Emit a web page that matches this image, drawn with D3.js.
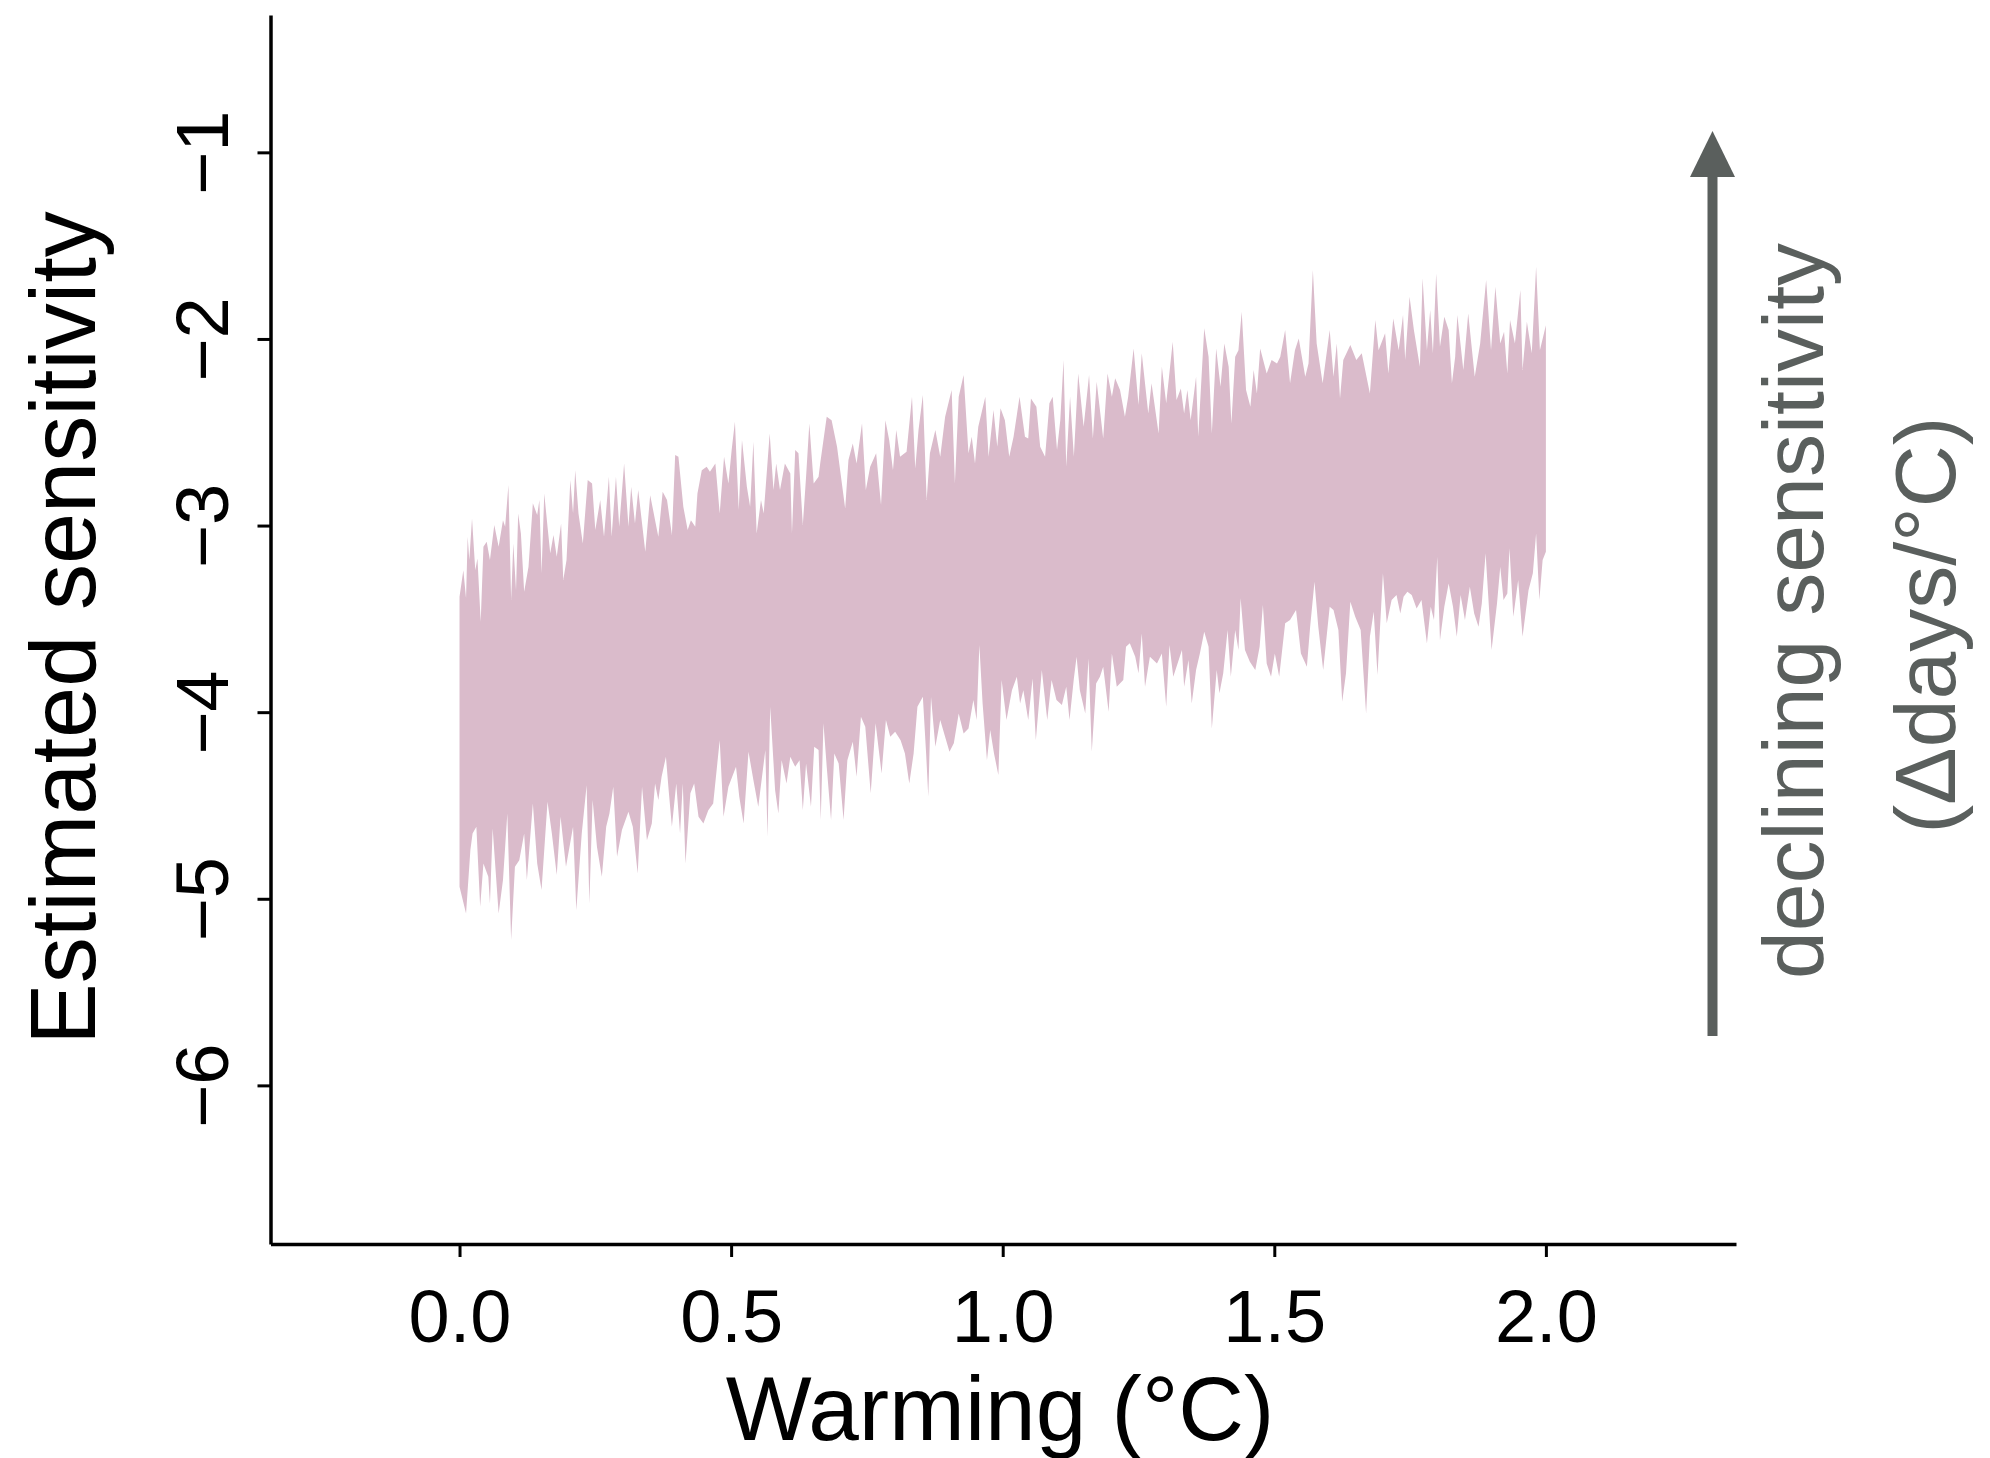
<!DOCTYPE html>
<html>
<head>
<meta charset="utf-8">
<script src="https://cdn.jsdelivr.net/npm/d3@7"></script>
<style>
  body { margin: 0; background: #fff; }
  svg { display: block; }
  text { font-family: "Liberation Sans", Arial, Helvetica, sans-serif; }
</style>
</head>
<body>
<svg id="chart" width="1990" height="1458"></svg>
<script>
// tick values
const xTicks = [0, 0.5, 1, 1.5, 2];
const yTicks = [-6, -5, -4, -3, -2, -1];

// upper edge of the sensitivity band, [warming, sensitivity]
const upperEdge = [
  [0.000,-3.381],[0.007,-3.239],[0.012,-3.390],[0.015,-3.060],[0.018,-3.185],[0.023,-2.962],[0.029,-3.239],[0.033,-3.176],[0.039,-3.515],[0.044,-3.114],
  [0.050,-3.087],[0.056,-3.185],[0.064,-2.997],[0.072,-3.114],[0.080,-2.971],[0.084,-3.006],[0.090,-2.783],[0.095,-3.399],[0.099,-3.096],[0.104,-3.346],
  [0.108,-2.935],[0.113,-3.042],[0.119,-3.355],[0.127,-3.221],[0.135,-2.881],[0.143,-2.944],[0.147,-2.863],[0.151,-3.256],[0.156,-2.828],[0.162,-3.006],
  [0.167,-3.149],[0.173,-3.051],[0.179,-3.167],[0.187,-2.989],[0.191,-3.292],[0.197,-3.185],[0.204,-2.756],[0.209,-2.935],[0.213,-2.703],[0.219,-2.935],
  [0.227,-3.096],[0.236,-2.756],[0.244,-2.774],[0.250,-3.024],[0.259,-2.863],[0.266,-3.060],[0.275,-2.738],[0.280,-3.060],[0.288,-2.738],[0.294,-3.006],
  [0.303,-2.667],[0.311,-3.006],[0.316,-2.792],[0.323,-2.989],[0.329,-2.810],[0.342,-3.140],[0.351,-2.837],[0.360,-2.971],[0.366,-3.060],[0.374,-2.819],
  [0.382,-2.863],[0.391,-3.051],[0.397,-2.622],[0.403,-2.631],[0.412,-2.899],[0.420,-3.024],[0.426,-2.971],[0.434,-3.006],[0.438,-2.828],[0.446,-2.703],
  [0.455,-2.685],[0.461,-2.712],[0.471,-2.667],[0.479,-2.935],[0.487,-2.631],[0.495,-2.774],[0.501,-2.595],[0.507,-2.444],[0.514,-2.917],[0.520,-2.542],
  [0.529,-2.792],[0.535,-2.899],[0.541,-2.551],[0.547,-3.042],[0.555,-2.863],[0.560,-2.935],[0.571,-2.506],[0.578,-2.810],[0.583,-2.667],[0.590,-2.810],
  [0.599,-2.667],[0.609,-2.721],[0.612,-3.042],[0.618,-2.595],[0.624,-2.613],[0.632,-2.997],[0.638,-2.738],[0.644,-2.453],[0.652,-2.774],[0.661,-2.738],
  [0.664,-2.667],[0.676,-2.417],[0.685,-2.435],[0.695,-2.578],[0.710,-2.908],[0.716,-2.649],[0.724,-2.560],[0.731,-2.667],[0.741,-2.452],[0.748,-2.810],
  [0.756,-2.685],[0.767,-2.613],[0.776,-2.890],[0.784,-2.435],[0.791,-2.542],[0.798,-2.703],[0.804,-2.488],[0.811,-2.631],[0.823,-2.604],[0.833,-2.310],
  [0.839,-2.694],[0.845,-2.488],[0.853,-2.301],[0.860,-2.863],[0.866,-2.613],[0.876,-2.488],[0.885,-2.631],[0.894,-2.417],[0.906,-2.274],[0.912,-2.774],
  [0.919,-2.310],[0.928,-2.193],[0.937,-2.613],[0.943,-2.524],[0.949,-2.667],[0.955,-2.470],[0.968,-2.310],[0.974,-2.631],[0.983,-2.381],[0.990,-2.578],
  [0.996,-2.372],[1.004,-2.435],[1.012,-2.631],[1.020,-2.524],[1.031,-2.310],[1.041,-2.524],[1.047,-2.533],[1.052,-2.319],[1.062,-2.363],[1.069,-2.578],
  [1.078,-2.631],[1.086,-2.345],[1.092,-2.310],[1.100,-2.595],[1.106,-2.435],[1.112,-2.113],[1.117,-2.685],[1.124,-2.310],[1.131,-2.631],[1.139,-2.185],
  [1.149,-2.470],[1.159,-2.193],[1.166,-2.533],[1.173,-2.229],[1.185,-2.533],[1.193,-2.185],[1.201,-2.310],[1.207,-2.211],[1.216,-2.274],[1.225,-2.417],
  [1.231,-2.310],[1.241,-2.051],[1.250,-2.354],[1.256,-2.077],[1.268,-2.399],[1.274,-2.238],[1.287,-2.506],[1.293,-2.149],[1.301,-2.345],[1.313,-2.015],
  [1.320,-2.327],
  [1.328,-2.265],[1.334,-2.399],[1.340,-2.274],[1.346,-2.435],[1.356,-2.202],[1.360,-2.524],[1.371,-1.943],[1.379,-2.095],[1.385,-2.506],[1.393,-2.051],
  [1.401,-2.256],[1.408,-2.024],[1.416,-2.149],[1.421,-2.453],[1.428,-2.095],[1.434,-2.060],[1.440,-1.854],[1.448,-2.274],[1.456,-2.363],[1.462,-2.167],
  [1.468,-2.292],[1.474,-2.051],[1.486,-2.185],[1.495,-2.113],[1.505,-2.131],[1.511,-2.095],[1.520,-1.952],[1.529,-2.238],[1.538,-2.060],[1.545,-1.997],
  [1.557,-2.202],[1.563,-2.131],[1.571,-1.631],[1.578,-2.024],[1.589,-2.238],[1.602,-1.952],[1.609,-2.202],[1.615,-2.024],[1.621,-2.319],[1.627,-2.113],
  [1.640,-2.033],[1.651,-2.113],[1.661,-2.077],[1.676,-2.292],[1.686,-1.899],[1.692,-2.060],[1.704,-1.970],[1.710,-2.185],[1.719,-1.890],[1.729,-2.060],
  [1.737,-1.872],[1.741,-2.113],[1.749,-1.774],[1.757,-1.952],[1.768,-2.149],[1.773,-1.675],[1.781,-2.060],[1.787,-1.845],[1.792,-2.077],[1.798,-1.649],
  [1.805,-2.042],[1.813,-1.881],[1.821,-1.952],[1.827,-2.238],[1.833,-2.095],[1.837,-1.872],[1.848,-2.167],[1.857,-1.863],[1.869,-2.202],[1.879,-2.024],
  [1.890,-1.684],[1.899,-2.060],[1.907,-1.720],[1.916,-2.024],[1.923,-1.961],[1.929,-2.185],[1.934,-1.899],[1.943,-2.024],[1.953,-1.738],[1.957,-2.167],
  [1.965,-1.908],[1.974,-2.077],[1.982,-1.613],[1.989,-2.060],[2.000,-1.926]
];

// lower edge of the sensitivity band, [warming, sensitivity]
const lowerEdge = [
  [0.000,-4.936],[0.012,-5.079],[0.020,-4.739],[0.024,-4.650],[0.031,-4.614],[0.038,-5.043],[0.044,-4.811],[0.053,-4.882],[0.056,-5.025],[0.061,-4.623],
  [0.072,-5.079],[0.080,-4.900],[0.088,-4.543],[0.095,-5.221],[0.102,-4.828],[0.110,-4.793],[0.119,-4.650],[0.124,-4.900],[0.135,-4.489],[0.143,-4.811],
  [0.151,-4.953],[0.162,-4.480],[0.170,-4.650],[0.179,-4.873],[0.186,-4.560],[0.196,-4.828],[0.209,-4.614],[0.215,-5.061],[0.225,-4.650],[0.234,-4.391],
  [0.239,-5.025],[0.245,-4.471],[0.253,-4.721],[0.262,-4.882],[0.270,-4.614],[0.276,-4.543],[0.283,-4.400],[0.290,-4.775],[0.299,-4.632],[0.311,-4.534],
  [0.319,-4.614],[0.328,-4.864],[0.336,-4.400],[0.345,-4.686],[0.354,-4.596],[0.360,-4.382],[0.366,-4.471],[0.372,-4.346],[0.380,-4.239],[0.385,-4.418],
  [0.391,-4.614],[0.399,-4.382],[0.406,-4.650],[0.411,-4.382],[0.416,-4.811],[0.425,-4.435],[0.432,-4.382],[0.440,-4.560],[0.449,-4.596],[0.458,-4.525],
  [0.467,-4.489],[0.479,-4.150],[0.486,-4.560],[0.495,-4.400],[0.509,-4.293],[0.515,-4.453],[0.523,-4.596],[0.532,-4.212],[0.541,-4.364],[0.550,-4.507],
  [0.563,-4.203],[0.567,-4.668],[0.572,-3.971],[0.581,-4.418],[0.587,-4.543],[0.593,-4.257],[0.602,-4.382],[0.609,-4.239],[0.618,-4.293],[0.626,-4.257],
  [0.632,-4.525],[0.638,-4.275],[0.647,-4.507],[0.653,-4.185],[0.661,-4.203],
  [0.665,-4.578],[0.670,-4.060],[0.676,-4.292],[0.684,-4.578],[0.690,-4.221],[0.698,-4.275],[0.707,-4.578],[0.714,-4.257],[0.724,-4.158],[0.731,-4.346],
  [0.739,-4.025],[0.747,-4.078],[0.757,-4.435],[0.766,-4.060],[0.777,-4.328],[0.785,-4.042],[0.793,-4.132],[0.802,-4.105],[0.812,-4.150],[0.820,-4.221],
  [0.828,-4.382],[0.836,-4.221],[0.843,-3.971],[0.853,-3.917],[0.859,-4.221],[0.863,-4.453],[0.868,-3.917],[0.876,-4.185],[0.885,-4.042],[0.893,-4.123],
  [0.902,-4.212],[0.910,-4.167],[0.919,-4.007],[0.928,-4.114],[0.937,-4.087],[0.946,-3.935],[0.952,-4.042],[0.957,-3.640],[0.963,-3.953],[0.971,-4.257],
  [0.977,-4.096],[0.984,-4.221],[0.992,-4.337],[0.998,-3.828],[1.007,-4.042],[1.017,-3.882],[1.026,-3.810],[1.032,-3.953],[1.038,-3.882],[1.047,-4.042],
  [1.055,-3.819],[1.061,-4.150],[1.072,-3.774],[1.082,-4.042],[1.090,-3.828],[1.099,-3.935],[1.109,-3.962],[1.117,-3.864],[1.123,-4.042],[1.131,-3.819],
  [1.136,-3.703],[1.142,-3.882],[1.152,-4.007],[1.158,-3.712],[1.164,-4.212],[1.172,-3.846],[1.179,-3.810],[1.185,-3.757],[1.195,-3.998],[1.201,-3.685],
  [1.210,-3.864],[1.222,-3.828],[1.227,-3.649],[1.234,-3.631],[1.244,-3.703],[1.250,-3.792],[1.256,-3.578],[1.262,-3.864],[1.271,-3.703],[1.284,-3.739],
  [1.293,-3.685],[1.301,-3.971],[1.307,-3.640],[1.314,-3.810],[1.324,-3.721],
  [1.330,-3.667],[1.334,-3.864],[1.342,-3.721],[1.348,-3.953],[1.356,-3.774],[1.363,-3.685],[1.371,-3.569],[1.379,-3.649],[1.385,-4.087],[1.394,-3.774],
  [1.399,-3.899],[1.406,-3.792],[1.414,-3.560],[1.420,-3.810],[1.428,-3.560],[1.434,-3.667],[1.438,-3.390],[1.446,-3.667],[1.455,-3.730],[1.465,-3.774],
  [1.473,-3.649],[1.479,-3.426],[1.486,-3.739],[1.494,-3.810],[1.501,-3.685],[1.509,-3.810],[1.520,-3.524],[1.529,-3.506],[1.540,-3.453],[1.549,-3.685],
  [1.560,-3.757],[1.566,-3.542],[1.574,-3.301],[1.581,-3.542],[1.590,-3.774],[1.602,-3.435],[1.609,-3.453],[1.618,-3.560],[1.625,-3.944],[1.632,-3.792],
  [1.640,-3.408],[1.649,-3.489],[1.659,-3.560],[1.669,-4.007],[1.676,-3.596],[1.683,-3.462],[1.690,-3.801],[1.700,-3.256],[1.707,-3.524],[1.716,-3.399],
  [1.725,-3.372],[1.732,-3.471],[1.738,-3.381],[1.745,-3.355],[1.753,-3.372],[1.762,-3.444],[1.771,-3.399],[1.781,-3.632],[1.788,-3.435],[1.794,-3.506],
  [1.800,-3.167],[1.805,-3.614],[1.813,-3.435],[1.821,-3.310],[1.829,-3.435],[1.836,-3.596],[1.843,-3.372],[1.851,-3.506],[1.860,-3.328],[1.868,-3.471],
  [1.876,-3.542],[1.882,-3.417],[1.889,-3.149],[1.900,-3.667],[1.910,-3.417],[1.916,-3.221],[1.922,-3.399],[1.929,-3.364],[1.933,-3.122],[1.940,-3.489],
  [1.949,-3.292],[1.957,-3.596],[1.968,-3.346],[1.976,-3.256],[1.982,-3.042],[1.988,-3.399],[1.994,-3.185],[2.000,-3.140]
];

const ink = '#000';
const arrowGrey = '#5a5f5d';
const bandFill = '#dabbcb';

const svg = d3.select('#chart');

// plot box: left axis at 270.5, bottom axis at 1244
const x = d3.scaleLinear().domain([-0.348, 2.35]).range([270.5, 1736]);
const y = d3.scaleLinear().domain([-6.85, -0.264]).range([1244, 15]);

// band = upper edge left->right, then lower edge right->left
const band = upperEdge.concat(lowerEdge.slice().reverse());
const line = d3.line()
  .x(d => x(d[0]))
  .y(d => y(d[1]))
  .curve(d3.curveLinearClosed);

svg.append('path')
  .attr('d', line(band))
  .attr('fill', bandFill)
  .attr('stroke', 'none');

// x axis
const xAxis = svg.append('g')
  .attr('transform', `translate(0,${y.range()[0]})`)
  .style('color', ink)
  .call(d3.axisBottom(x)
    .tickValues(xTicks)
    .tickFormat(d3.format('.1f'))
    .tickSize(13)
    .tickSizeOuter(0)
    .tickPadding(32.5));
xAxis.select('.domain').attr('stroke-width', 3.5);
xAxis.selectAll('.tick line').attr('stroke-width', 3);
xAxis.selectAll('.tick text')
  .style('font-size', '74px')
  .attr('fill', ink);

// y axis, labels turned sideways
const yAxis = svg.append('g')
  .attr('transform', `translate(${x.range()[0]},0)`)
  .style('color', ink)
  .call(d3.axisLeft(y)
    .tickValues(yTicks)
    .tickFormat(d3.format('d'))
    .tickSize(13)
    .tickSizeOuter(0));
yAxis.select('.domain').attr('stroke-width', 3.5);
yAxis.selectAll('.tick line').attr('stroke-width', 3);
yAxis.selectAll('.tick text')
  .attr('x', null)
  .attr('dy', null)
  .attr('text-anchor', 'middle')
  .attr('transform', 'translate(-42.5,0) rotate(-90)')
  .style('font-size', '74px')
  .attr('fill', ink);

// axis titles
svg.append('text')
  .attr('transform', 'translate(95,628) rotate(-90)')
  .attr('text-anchor', 'middle')
  .style('font-size', '92px')
  .attr('fill', ink)
  .text('Estimated sensitivity');

svg.append('text')
  .attr('x', 1000)
  .attr('y', 1440)
  .attr('text-anchor', 'middle')
  .style('font-size', '91px')
  .attr('fill', ink)
  .text('Warming (°C)');

// arrow on the right
const ax = 1712.5;
svg.append('line')
  .attr('x1', ax).attr('x2', ax)
  .attr('y1', 1036).attr('y2', 170)
  .attr('stroke', arrowGrey)
  .attr('stroke-width', 10);
svg.append('path')
  .attr('d', `M${ax},131L${ax + 22.5},177L${ax - 22.5},177Z`)
  .attr('fill', arrowGrey);

svg.append('text')
  .attr('transform', 'translate(1823,611) rotate(-90)')
  .attr('text-anchor', 'middle')
  .style('font-size', '86px')
  .attr('fill', arrowGrey)
  .text('declining sensitivity');

svg.append('text')
  .attr('transform', 'translate(1955,625) rotate(-90)')
  .attr('text-anchor', 'middle')
  .style('font-size', '86px')
  .attr('fill', arrowGrey)
  .text('(Δdays/°C)');
</script>
</body>
</html>
